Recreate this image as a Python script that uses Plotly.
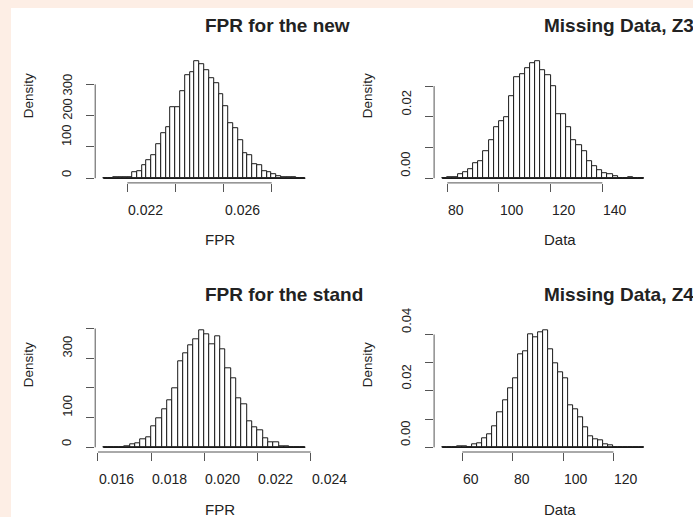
import plotly.graph_objects as go

W, H = 693, 517

# ---------------- data ----------------
# Panel 1: FPR for the new
p1_title = "FPR for the new"
p1_xlabel = "FPR"
p1_start = 0.0210
p1_binwidth = 0.0002
p1_density = [1, 1, 2, 3, 3, 3, 19, 22, 40, 57, 75, 108, 144, 163, 227, 227, 279, 330, 340, 375,
              364, 345, 320, 303, 269, 231, 177, 160, 123, 81, 73, 46, 43, 22, 19, 14, 7, 3, 2, 2, 1, 1]
p1_xticks = [0.022, 0.024, 0.026, 0.028]
p1_xticklabels = ["0.022", "", "0.026", ""]
p1_yticks = [0, 100, 200, 300]
p1_yticklabels = ["0", "100", "200", "300"]

# Panel 2: Missing Data, Z3
p2_title = "Missing Data, Z3"
p2_xlabel = "Data"
p2_start = 78
p2_binwidth = 2
p2_density = [0, 0.0002, 0.0004, 0.0012, 0.0020, 0.0028, 0.0050, 0.0054, 0.0089, 0.0124, 0.0166,
              0.0187, 0.0200, 0.0267, 0.0328, 0.0338, 0.0357, 0.0376, 0.0382, 0.0353, 0.0335, 0.0300,
              0.0210, 0.0210, 0.0166, 0.0125, 0.0107, 0.0087, 0.0054, 0.0038, 0.0025, 0.0016, 0.0012,
              0.0007, 0, 0.0001, 0.0003, 0, 0]
p2_xticks = [80, 100, 120, 140]
p2_xticklabels = ["80", "100", "120", "140"]
p2_yticks = [0, 0.01, 0.02, 0.03]
p2_yticklabels = ["0.00", "", "0.02", ""]

# Panel 3: FPR for the stand
p3_title = "FPR for the stand"
p3_xlabel = "FPR"
p3_start = 0.0162
p3_binwidth = 0.0002
p3_density = [0, 0, 0, 0, 2, 10, 14, 27, 34, 72, 98, 129, 158, 199, 290, 318, 345, 364, 395, 379,
              348, 374, 331, 267, 232, 165, 146, 86, 69, 56, 29, 16, 16, 3, 3, 0, 0, 0]
p3_xticks = [0.016, 0.018, 0.020, 0.022, 0.024]
p3_xticklabels = ["0.016", "0.018", "0.020", "0.022", "0.024"]
p3_yticks = [0, 100, 200, 300, 400]
p3_yticklabels = ["0", "100", "", "300", ""]

# Panel 4: Missing Data, Z4
p4_title = "Missing Data, Z4"
p4_xlabel = "Data"
p4_start = 52
p4_binwidth = 2
p4_density = [0, 0, 0, 0.0003, 0.0003, 0, 0.0011, 0.0014, 0.0032, 0.0046, 0.0076, 0.0125, 0.0167,
              0.0209, 0.0243, 0.0331, 0.0340, 0.0400, 0.0389, 0.0409, 0.0416, 0.0348, 0.0299, 0.0265,
              0.0246, 0.0149, 0.0135, 0.0107, 0.0070, 0.0038, 0.0028, 0.0024, 0.0012, 0.0007,
              0, 0, 0, 0, 0, 0]
p4_xticks = [60, 80, 100, 120]
p4_xticklabels = ["60", "80", "100", "120"]
p4_yticks = [0, 0.01, 0.02, 0.03, 0.04]
p4_yticklabels = ["0.00", "", "0.02", "", "0.04"]

ylabel = "Density"

panels = [
    (p1_title, p1_xlabel, p1_start, p1_binwidth, p1_density, p1_xticks, p1_xticklabels, p1_yticks, p1_yticklabels),
    (p2_title, p2_xlabel, p2_start, p2_binwidth, p2_density, p2_xticks, p2_xticklabels, p2_yticks, p2_yticklabels),
    (p3_title, p3_xlabel, p3_start, p3_binwidth, p3_density, p3_xticks, p3_xticklabels, p3_yticks, p3_yticklabels),
    (p4_title, p4_xlabel, p4_start, p4_binwidth, p4_density, p4_xticks, p4_xticklabels, p4_yticks, p4_yticklabels),
]

# pixel offsets (downwards) of the rotated y tick labels, as seen in the reference
ylabel_drop = [
    [0, 0, 5, 12],
    [0] * 4,
    [0] * 5,
    [0] * 5,
]

# ---------------- layout (pixel boxes of plot regions) ----------------
regions = [  # left, right, top, bottom in pixels
    (95.2, 313.4, 56.2, 182.9),
    (434.1, 651.7, 56.2, 182.9),
    (95.2, 313.4, 325.3, 452.0),
    (434.1, 651.7, 325.3, 452.0),
]

FONT = "Liberation Sans, Arial, Helvetica, sans-serif"
TXT = "#222222"
AX = "#555555"

fig = go.Figure()
layout = dict(
    width=W, height=H,
    margin=dict(l=0, r=0, t=0, b=0),
    paper_bgcolor="#FDEEE5",
    plot_bgcolor="rgba(0,0,0,0)",
    showlegend=False,
    font=dict(family=FONT, color=TXT, size=14),
)
annotations = []
shapes = [dict(type="rect", xref="paper", yref="paper", x0=11 / W, x1=1, y0=0, y1=1 - 8 / H,
               fillcolor="white", line=dict(width=0), layer="below")]

for i, (title, xlab, start, bw, dens, xt, xtl, yt, ytl) in enumerate(panels):
    n = i + 1
    xa = "x" if n == 1 else f"x{n}"
    ya = "y" if n == 1 else f"y{n}"
    left, right, top, bottom = regions[i]
    nb = len(dens)
    edges_lo = start
    edges_hi = start + nb * bw
    centers = [start + (k + 0.5) * bw for k in range(nb)]
    dx = 0.04 * (edges_hi - edges_lo)
    ymax = max(dens)

    fig.add_trace(go.Bar(x=centers, y=dens, width=[bw] * nb, xaxis=xa, yaxis=ya,
                         marker=dict(color="white", line=dict(color="#1a1a1a", width=1)),
                         hoverinfo="skip"))
    fig.add_trace(go.Scatter(x=[edges_lo, edges_hi], y=[0, 0], mode="lines", xaxis=xa, yaxis=ya,
                             line=dict(color="#1a1a1a", width=1.5), hoverinfo="skip"))

    xkey = "xaxis" if n == 1 else f"xaxis{n}"
    ykey = "yaxis" if n == 1 else f"yaxis{n}"
    layout[xkey] = dict(domain=[left / W, right / W], anchor=ya, range=[edges_lo - dx, edges_hi + dx],
                        showgrid=False, zeroline=False, showline=False, ticks="outside", ticklen=8,
                        tickwidth=1, tickcolor=AX, tickvals=xt, showticklabels=False, fixedrange=True)
    layout[ykey] = dict(domain=[1 - bottom / H, 1 - top / H], anchor=xa, range=[-0.04 * ymax, 1.04 * ymax],
                        showgrid=False, zeroline=False, showline=False, ticks="outside", ticklen=8,
                        tickwidth=1, tickcolor=AX, tickvals=yt, showticklabels=False, fixedrange=True)

    # R-style axis lines spanning first..last tick
    shapes.append(dict(type="line", xref=xa, yref=f"{ya} domain", x0=xt[0], x1=xt[-1], y0=0, y1=0,
                       line=dict(color=AX, width=1)))
    shapes.append(dict(type="line", xref=f"{xa} domain", yref=ya, x0=0, x1=0, y0=yt[0], y1=yt[-1],
                       line=dict(color=AX, width=1)))

    # tick labels (start-anchored at tick, as in the reference)
    for v, t in zip(xt, xtl):
        if t:
            annotations.append(dict(xref=xa, yref=f"{ya} domain", x=v, y=0, text=t, showarrow=False,
                                    xanchor="left", yanchor="middle", yshift=-27, borderpad=0,
                                    font=dict(size=14, color=TXT)))
    for v, t, drop in zip(yt, ytl, ylabel_drop[i]):
        if t:
            annotations.append(dict(xref=f"{xa} domain", yref=ya, x=0, y=v, text=t, showarrow=False,
                                    textangle=-90, xanchor="center", yanchor="bottom", xshift=-28,
                                    yshift=-drop, borderpad=0, font=dict(size=13, color=TXT)))
    # axis titles
    annotations.append(dict(xref=f"{xa} domain", yref=f"{ya} domain", x=0.5, y=0, text=xlab,
                            showarrow=False, xanchor="left", yanchor="middle", yshift=-57, borderpad=0,
                            font=dict(size=15, color=TXT)))
    annotations.append(dict(xref=f"{xa} domain", yref=f"{ya} domain", x=0, y=0.5, text=ylabel,
                            showarrow=False, textangle=-90, xanchor="center", yanchor="bottom",
                            xshift=-67, borderpad=0, font=dict(size=13.5, color=TXT)))
    # panel title
    annotations.append(dict(xref=f"{xa} domain", yref=f"{ya} domain", x=0.5, y=1, text=f"<b>{title}</b>",
                            showarrow=False, xanchor="left", yanchor="middle", yshift=31, borderpad=0,
                            font=dict(size=19, color=TXT)))

layout["annotations"] = annotations
layout["shapes"] = shapes
layout["bargap"] = 0
fig.update_layout(**layout)
fig.write_html("out.html", config={"displayModeBar": False},
               post_script="document.body.style.margin='0';document.body.style.overflow='hidden';")
